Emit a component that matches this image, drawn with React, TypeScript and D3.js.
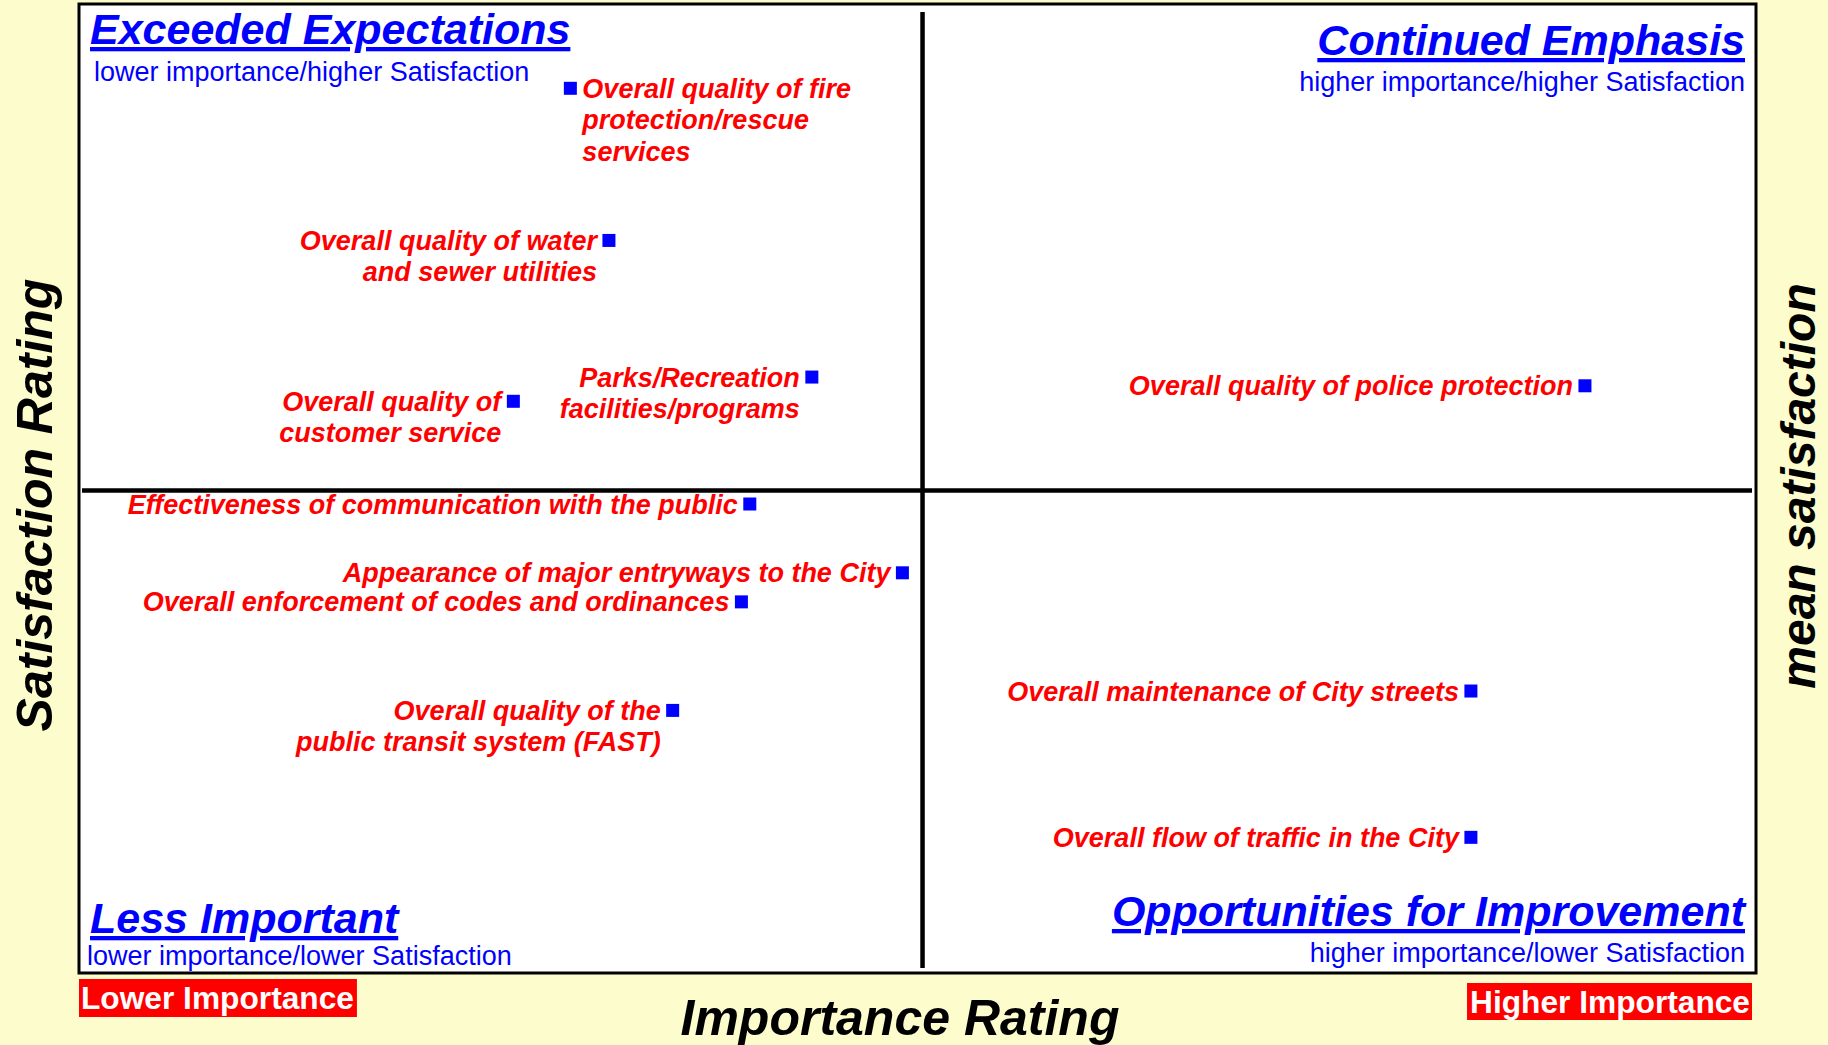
import React, { useEffect, useLayoutEffect, useRef, useState } from 'react';
import * as d3 from 'd3';

// services and their labels (one entry per line)
const services = [
    'fire', 'water', 'customer', 'parks', 'police', 'communication',
    'entryways', 'codes', 'transit', 'streets', 'traffic',
];
const serviceLabels = [
    ['Overall quality of fire', 'protection/rescue', 'services'],
    ['Overall quality of water', 'and sewer utilities'],
    ['Overall quality of', 'customer service'],
    ['Parks/Recreation', 'facilities/programs'],
    ['Overall quality of police protection'],
    ['Effectiveness of communication with the public'],
    ['Appearance of major entryways to the City'],
    ['Overall enforcement of codes and ordinances'],
    ['Overall quality of the', 'public transit system (FAST)'],
    ['Overall maintenance of City streets'],
    ['Overall flow of traffic in the City'],
];
// importance index (x) and satisfaction index (y)
const importance = [29.3, 31.6, 25.9, 43.7, 89.8, 40.0, 49.1, 39.5, 35.4, 83.0, 83.0];
const satisfaction = [91.3, 75.6, 59.0, 61.5, 60.6, 48.4, 41.3, 38.3, 27.1, 29.1, 14.0];
const importanceMean = 50.3;
const satisfactionMean = 49.8;
const labelSide = ['right', 'left', 'left', 'left', 'left', 'left', 'left', 'left', 'left', 'left', 'left'];

const W = 1828;
const H = 1045;
const font = "'Liberation Sans', Arial, Helvetica, sans-serif";
const BLUE = '#0000FF';
const RED = '#FF0000';

const App = () => {
    const plot = { left: 79, top: 4, right: 1756, bottom: 973 };
    const x = d3.scaleLinear().domain([0, 100]).range([plot.left, plot.right]);
    const y = d3.scaleLinear().domain([0, 100]).range([plot.bottom, plot.top]);

    const lowRef = useRef<SVGTextElement>(null);
    const highRef = useRef<SVGTextElement>(null);
    const [boxW, setBoxW] = useState({ low: 277, high: 282 });

    useEffect(() => {
        document.body.style.margin = '0';
    }, []);

    useLayoutEffect(() => {
        if (lowRef.current && highRef.current) {
            setBoxW({
                low: lowRef.current.getComputedTextLength() + 5,
                high: highRef.current.getComputedTextLength() + 5,
            });
        }
    }, []);

    const mx = x(importanceMean);
    const my = y(satisfactionMean);
    const lineH = 31.5;
    const sq = 13;

    return (
        <svg width={W} height={H} style={{ display: 'block', fontFamily: font }}>
            <rect x={0} y={0} width={W} height={H} fill="#FCFCCC" />
            <rect x={plot.left} y={plot.top} width={plot.right - plot.left} height={plot.bottom - plot.top}
                fill="white" stroke="black" strokeWidth={3} />

            {/* quadrant dividers */}
            <line x1={mx} x2={mx} y1={plot.top + 8} y2={plot.bottom - 5} stroke="black" strokeWidth={4.5} />
            <line x1={plot.left + 3} x2={plot.right - 4} y1={my} y2={my} stroke="black" strokeWidth={4.5} />

            {/* quadrant titles */}
            <g fill={BLUE}>
                <text x={90} y={44} fontSize={43} fontWeight="bold" fontStyle="italic" textDecoration="underline">Exceeded Expectations</text>
                <text x={94} y={81} fontSize={27}>lower importance/higher Satisfaction</text>
                <text x={1745} y={55} fontSize={43} fontWeight="bold" fontStyle="italic" textAnchor="end" textDecoration="underline">Continued Emphasis</text>
                <text x={1745} y={91} fontSize={27} textAnchor="end">higher importance/higher Satisfaction</text>
                <text x={90} y={933} fontSize={43} fontWeight="bold" fontStyle="italic" textDecoration="underline">Less Important</text>
                <text x={87} y={965} fontSize={27}>lower importance/lower Satisfaction</text>
                <text x={1745} y={926} fontSize={43} fontWeight="bold" fontStyle="italic" textAnchor="end" textDecoration="underline">Opportunities for Improvement</text>
                <text x={1745} y={962} fontSize={27} textAnchor="end">higher importance/lower Satisfaction</text>
            </g>

            {/* points */}
            {services.map((s, i) => {
                const cx = x(importance[i]);
                const cy = y(satisfaction[i]);
                const right = labelSide[i] === 'right';
                return (
                    <g key={s}>
                        <rect x={cx - sq / 2} y={cy - sq / 2} width={sq} height={sq} fill={BLUE} />
                        <text
                            x={right ? cx + 12 : cx - 12}
                            y={cy + 9.5}
                            textAnchor={right ? 'start' : 'end'}
                            fill={RED}
                            fontSize={27}
                            fontWeight="bold"
                            fontStyle="italic"
                        >
                            {serviceLabels[i].map((l, j) => (
                                <tspan key={j} x={right ? cx + 12 : cx - 12} dy={j === 0 ? 0 : lineH}>{l}</tspan>
                            ))}
                        </text>
                    </g>
                );
            })}

            {/* axis labels */}
            <rect x={79} y={979} width={boxW.low} height={38} fill={RED} />
            <text ref={lowRef} x={81} y={1009} fontSize={31.7} fontWeight="bold" fill="white">Lower Importance</text>
            <rect x={1752 - boxW.high} y={983} width={boxW.high} height={37} fill={RED} />
            <text ref={highRef} x={1750} y={1013} fontSize={31.7} fontWeight="bold" fill="white" textAnchor="end">Higher Importance</text>

            <text x={900} y={1035} fontSize={50} fontWeight="bold" fontStyle="italic" textAnchor="middle">Importance Rating</text>
            <text transform="translate(52,505) rotate(-90)" fontSize={50} fontWeight="bold" fontStyle="italic" textAnchor="middle">Satisfaction Rating</text>
            <text transform="translate(1815,486) rotate(-90)" fontSize={48} fontWeight="bold" fontStyle="italic" textAnchor="middle">mean satisfaction</text>
        </svg>
    );
};

export default App;
